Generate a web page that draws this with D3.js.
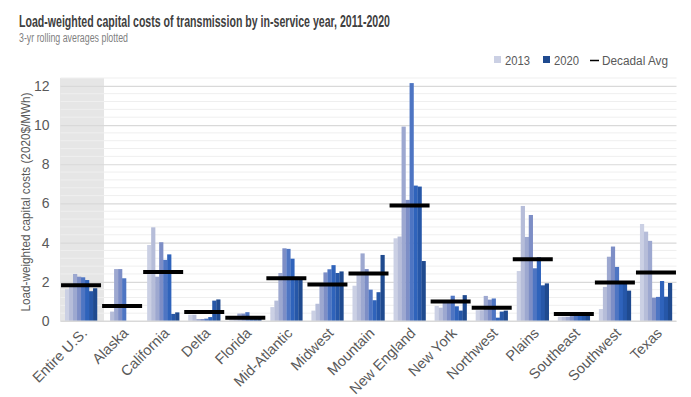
<!DOCTYPE html>
<html><head><meta charset="utf-8">
<script src="https://cdn.jsdelivr.net/npm/d3@7"></script>
<style>
body{margin:0;background:#fff;}
svg text{font-family:"Liberation Sans Narrow","Arial Narrow","Liberation Sans",Arial,sans-serif;}
</style></head>
<body><svg id="c" width="691" height="397"></svg>
<script>
const categories = ["Entire U.S.","Alaska","California","Delta","Florida","Mid-Atlantic","Midwest","Mountain","New England","New York","Northwest","Plains","Southeast","Southwest","Texas"];
const years = ["2013","2014","2015","2016","2017","2018","2019","2020"];
const y2013 = [1.62,0.00,3.88,0.32,0.12,0.71,0.53,1.80,4.22,0.77,0.55,2.55,0.22,0.61,4.95];
const y2014 = [1.75,0.48,4.78,0.32,0.15,1.04,0.88,2.40,4.31,0.68,0.55,5.87,0.22,1.74,4.56];
const y2015 = [2.40,2.65,2.26,0.10,0.38,2.45,1.85,3.45,9.92,0.94,1.28,4.29,0.22,3.28,4.09];
const y2016 = [2.26,2.65,4.02,0.10,0.38,3.71,2.48,2.65,6.18,0.98,1.09,5.41,0.25,3.80,1.19];
const y2017 = [2.23,2.18,3.12,0.12,0.45,3.68,2.64,1.60,12.14,1.29,1.15,2.69,0.28,2.76,1.23];
const y2018 = [2.09,0.00,3.40,0.20,0.20,3.18,2.85,1.06,6.91,0.75,0.17,3.25,0.28,1.95,2.04];
const y2019 = [1.52,0.00,0.36,1.04,0.15,2.25,2.45,1.47,6.86,0.53,0.48,1.82,0.28,1.90,1.24];
const y2020 = [1.67,0.00,0.44,1.10,0.12,2.20,2.53,3.37,3.06,1.32,0.53,1.92,0.28,1.55,1.94];
const decadalAvg = [1.82,0.77,2.50,0.46,0.17,2.18,1.86,2.42,5.89,1.00,0.68,3.15,0.36,1.96,2.47];
const yTicks = [0,2,4,6,8,10,12];
const legendLabels = ["2013","2020","Decadal Avg"];

const series = [y2013,y2014,y2015,y2016,y2017,y2018,y2019,y2020];
const colors = ["#cbd0e4","#b6bdd9","#9da8d0","#7d8ec6","#4e75c3","#2f63bb","#2657a8","#1f4a8f"];

const svg = d3.select("#c");
const L = 60.5, R = 676.5, T = 78, B = 321;

const x0 = d3.scaleBand().domain(categories).range([L,R]).paddingInner(0.22).paddingOuter(0.11);
const x1 = d3.scaleBand().domain(years).range([0,x0.bandwidth()]);
const y = d3.scaleLinear().domain([0,12.4]).range([B,T]);

svg.append("rect").attr("x",60).attr("y",T).attr("width",44).attr("height",B-T).attr("fill","#e6e6e6");

const minor = d3.range(1,32).map(i=>+(i*0.4).toFixed(1)).filter(v=>Math.abs(v/2-Math.round(v/2))>1e-6);
svg.append("g").selectAll("line").data(minor).join("line")
  .attr("x1",L).attr("x2",R).attr("y1",d=>y(d)).attr("y2",d=>y(d))
  .attr("stroke","#efefef").attr("stroke-width",1);
const yAxis = d3.axisLeft(y).tickValues(yTicks).tickSize(-(R-L)).tickFormat(d3.format("d"));
const ga = svg.append("g").attr("transform",`translate(${L},0)`).call(yAxis);
ga.select(".domain").remove();
ga.selectAll(".tick line").attr("stroke","#d9d9d9").attr("stroke-width",1.2);
ga.selectAll(".tick text").attr("x",-11).attr("fill","#595959").attr("font-size",14)
  .style("font-family","'Liberation Sans Narrow','Arial Narrow',sans-serif");

const groups = svg.append("g").selectAll("g").data(categories).join("g")
  .attr("transform",d=>`translate(${x0(d)},0)`);
groups.selectAll("rect").data((c,i)=>series.map((s,j)=>({year:years[j],v:s[i],j}))).join("rect")
  .attr("x",d=>x1(d.year)).attr("width",x1.bandwidth()+0.2)
  .attr("y",d=>y(d.v)).attr("height",d=>B-y(d.v))
  .attr("fill",d=>colors[d.j]);

svg.append("line").attr("x1",L).attr("x2",R).attr("y1",B).attr("y2",B).attr("stroke","#d9d9d9").attr("stroke-width",1.2);

svg.append("g").selectAll("line").data(categories).join("line")
  .attr("x1",(d)=>x0(d)+x0.bandwidth()/2-20).attr("x2",(d)=>x0(d)+x0.bandwidth()/2+20)
  .attr("y1",(d,i)=>y(decadalAvg[i])).attr("y2",(d,i)=>y(decadalAvg[i]))
  .attr("stroke","#000").attr("stroke-width",4);

const xa = d3.axisBottom(x0).tickSize(0).tickPadding(0);
const gx = svg.append("g").attr("transform",`translate(0,${B})`).call(xa);
gx.select(".domain").remove();
gx.selectAll(".tick text")
  .attr("text-anchor","end").attr("dy",0).attr("y",0)
  .attr("transform","translate(7,13) rotate(-45)")
  .attr("fill","#595959").attr("font-size",14.5)
  .style("font-family","'Liberation Sans Narrow','Arial Narrow',sans-serif");

svg.append("text").attr("transform","translate(30,202) rotate(-90)").attr("text-anchor","middle")
  .attr("fill","#595959").attr("font-size",12.5).attr("textLength",219).attr("lengthAdjust","spacingAndGlyphs")
  .text("Load-weighted capital costs (2020$/MWh)");

svg.append("text").attr("x",19).attr("y",27).attr("fill","#404040").attr("font-size",16).attr("font-weight","bold")
  .attr("textLength",371).attr("lengthAdjust","spacingAndGlyphs")
  .text("Load-weighted capital costs of transmission by in-service year, 2011-2020");
svg.append("text").attr("x",19).attr("y",42).attr("fill","#7f7f7f").attr("font-size",12.5)
  .attr("textLength",109).attr("lengthAdjust","spacingAndGlyphs")
  .text("3-yr rolling averages plotted");

const lg = svg.append("g");
lg.append("rect").attr("x",494).attr("y",56).attr("width",7).attr("height",7).attr("fill",colors[0]);
lg.append("text").attr("x",505).attr("y",64.5).attr("fill","#595959").attr("font-size",12).attr("textLength",25).attr("lengthAdjust","spacingAndGlyphs").text(legendLabels[0]);
lg.append("rect").attr("x",543).attr("y",56).attr("width",7).attr("height",7).attr("fill",colors[7]);
lg.append("text").attr("x",554).attr("y",64.5).attr("fill","#595959").attr("font-size",12).attr("textLength",25).attr("lengthAdjust","spacingAndGlyphs").text(legendLabels[1]);
lg.append("line").attr("x1",590).attr("x2",599).attr("y1",60.5).attr("y2",60.5).attr("stroke","#000").attr("stroke-width",1.5);
lg.append("text").attr("x",602).attr("y",64.5).attr("fill","#595959").attr("font-size",12).attr("textLength",66).attr("lengthAdjust","spacingAndGlyphs").text(legendLabels[2]);
</script></body></html>
